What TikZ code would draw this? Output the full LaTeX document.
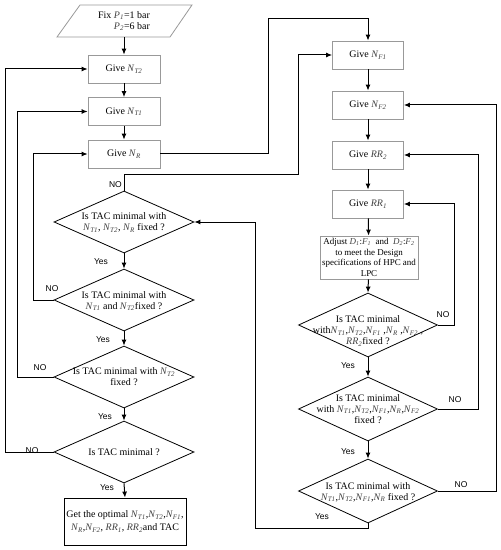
\documentclass[tikz,border=0pt]{standalone}
\usepackage{fontspec}
\setmainfont{Liberation Serif}
\setsansfont{Liberation Sans}
\usetikzlibrary{shapes.geometric,arrows.meta}
\newcommand\vsub[2]{{\color{black!75}\textit{#1}\textsubscript{\textit{#2}}}}
\begin{document}
\begin{tikzpicture}[x=1bp,y=-1bp,
  box/.style={draw=black!40, line width=0.8bp, minimum width=72bp, minimum height=28bp, inner sep=0pt, font=\fontsize{10}{12}\selectfont},
  dia/.style={draw, diamond, minimum width=140bp, minimum height=62bp, inner sep=0pt, line width=0.8bp},
  tx/.style={align=center, font=\fontsize{10}{11}\selectfont, inner sep=0pt},
  lbl/.style={font=\sffamily\fontsize{8.5}{10}\selectfont, inner sep=0pt},
  arr/.style={-{Latex[length=6bp,width=5bp]}, line width=1bp},
  ln/.style={line width=1bp}]
\useasboundingbox (0,0) rectangle (501,550);
% start
\draw[draw=black!40, line width=0.8bp] (80,5) -- (192,5) -- (170,37) -- (57,37) -- cycle;
\node[tx, align=right, minimum height=32bp] (fix) at (124,21) {Fix \vsub{P}{1}=1 bar\\\vsub{P}{2}=6 bar};
% left column boxes
\node[box] (nt2) at (124,69) {Give \vsub{N}{T2}};
\node[box] (nt1) at (124,111.5) {Give \vsub{N}{T1}};
\node[box] (nr) at (124,154) {Give \vsub{N}{R}};
% left diamonds
\node[dia] (d1) at (124,222) {};
\node[tx] (d1t) at (124,222.5) {Is TAC minimal with\\\vsub{N}{T1}, \vsub{N}{T2}, \vsub{N}{R} fixed ?};
\node[dia] (d2) at (124,300) {};
\node[tx] (d2t) at (124,301) {Is TAC minimal with\\\vsub{N}{T1} and \vsub{N}{T2}fixed ?};
\node[dia] (d3) at (124,377) {};
\node[tx] (d3t) at (124,377) {Is TAC minimal with \vsub{N}{T2}\\fixed ?};
\node[dia] (d4) at (124,452) {};
\node[tx] (d4t) at (124,452) {Is TAC minimal ?};
\node[draw, line width=0.8bp, minimum width=122bp, minimum height=47bp, inner sep=0pt, align=center, font=\fontsize{10}{13}\selectfont] (fin) at (125,521.5) {Get the optimal \vsub{N}{T1},\vsub{N}{T2},\vsub{N}{F1},\\\vsub{N}{R},\vsub{N}{F2}, \vsub{RR}{1}, \vsub{RR}{2}and TAC};
% right column boxes
\node[box, minimum width=71bp] (nf1) at (368,55) {Give \vsub{N}{F1}};
\node[box, minimum width=71bp] (nf2) at (368,105) {Give \vsub{N}{F2}};
\node[box, minimum width=71bp] (rr2) at (368,155) {Give \vsub{RR}{2}};
\node[box, minimum width=71bp] (rr1) at (368,204) {Give \vsub{RR}{1}};
\node[box, minimum width=98bp, minimum height=43bp, align=center, font=\fontsize{9}{10.6}\selectfont] (adj) at (369,257.5) {Adjust \vsub{D}{1}:\vsub{F}{1} \ and \ \vsub{D}{2}:\vsub{F}{2}\\to meet the Design\\specifications of HPC and\\LPC};
% right diamonds
\node[dia, minimum width=139bp, minimum height=64bp] (d5) at (368,325) {};
\node[tx] (d5t) at (368,331) {Is TAC minimal\\with\vsub{N}{T1},\vsub{N}{T2},\vsub{N}{F1} ,\vsub{N}{R} ,\vsub{N}{F2} ,\\\vsub{RR}{2}fixed ?};
\node[dia, minimum width=139bp, minimum height=64bp] (d6) at (368,409) {};
\node[tx] (d6t) at (368,409) {Is TAC minimal\\with \vsub{N}{T1},\vsub{N}{T2},\vsub{N}{F1},\vsub{N}{R},\vsub{N}{F2}\\fixed ?};
\node[dia, minimum width=139bp, minimum height=64bp] (d7) at (368,491) {};
\node[tx] (d7t) at (368,492) {Is TAC minimal with\\\vsub{N}{T1},\vsub{N}{T2},\vsub{N}{F1},\vsub{N}{R} fixed ?};
% corner coordinates
\coordinate (c1) at (268,154);
\coordinate (c2) at (268,19);
\coordinate (c3) at (368,19);
\coordinate (c4) at (124,175);
\coordinate (c5) at (298,175);
\coordinate (c6) at (298,55);
\coordinate (c7) at (33,300);
\coordinate (c8) at (33,154);
\coordinate (c9) at (17,377);
\coordinate (c10) at (17,111.5);
\coordinate (c11) at (5,452);
\coordinate (c12) at (5,69);
\coordinate (c13) at (454,325);
\coordinate (c14) at (454,204);
\coordinate (c15) at (478,409);
\coordinate (c16) at (478,155);
\coordinate (c17) at (496,491);
\coordinate (c18) at (496,105);
\coordinate (c19) at (368,528);
\coordinate (c20) at (255,528);
\coordinate (c21) at (255,222);
% left flow
\draw[arr] (fix.south) -- (nt2.north);
\draw[arr] (nt2) -- (nt1);
\draw[arr] (nt1) -- (nr);
\draw[arr] (nr.east) -- (c1) -- (c2) -- (c3) -- (nf1.north);
\draw[arr] (d1.north) -- (c4) -- (c5) -- (c6) -- (nf1.west);
\draw[arr] (d1.south) -- (d2.north);
\draw[arr] (d2.south) -- (d3.north);
\draw[arr] (d3.south) -- (d4.north);
\draw[arr] (d4.south) -- (fin.north);
\draw[arr] (d2.west) -- (c7) -- (c8) -- (nr.west);
\draw[arr] (d3.west) -- (c9) -- (c10) -- (nt1.west);
\draw[arr] (d4.west) -- (c11) -- (c12) -- (nt2.west);
% right flow
\draw[arr] (nf1) -- (nf2);
\draw[arr] (nf2) -- (rr2);
\draw[arr] (rr2) -- (rr1);
\draw[arr] (rr1) -- (adj);
\draw[arr] (adj) -- (d5.north);
\draw[arr] (d5.south) -- (d6.north);
\draw[arr] (d6.south) -- (d7.north);
\draw[arr] (d5.east) -- (c13) -- (c14) -- (rr1.east);
\draw[arr] (d6.east) -- (c15) -- (c16) -- (rr2.east);
\draw[arr] (d7.east) -- (c17) -- (c18) -- (nf2.east);
\draw[arr] (d7.south) -- (c19) -- (c20) -- (c21) -- (d1.east);
% labels
\node[lbl, anchor=east] (l1) at (122,185) {NO};
\node[lbl] (l2) at (101,262) {Yes};
\node[lbl] (l3) at (52,289) {NO};
\node[lbl] (l4) at (103,339.5) {Yes};
\node[lbl] (l5) at (40,368) {NO};
\node[lbl] (l6) at (105,417) {Yes};
\node[lbl] (l7) at (32,451) {NO};
\node[lbl] (l8) at (107,488) {Yes};
\node[lbl] (l9) at (443,315) {NO};
\node[lbl] (l10) at (348,366) {Yes};
\node[lbl] (l11) at (455,400) {NO};
\node[lbl] (l12) at (348,452) {Yes};
\node[lbl] (l13) at (461,485) {NO};
\node[lbl] (l14) at (322,517) {Yes};
\end{tikzpicture}
\end{document}
